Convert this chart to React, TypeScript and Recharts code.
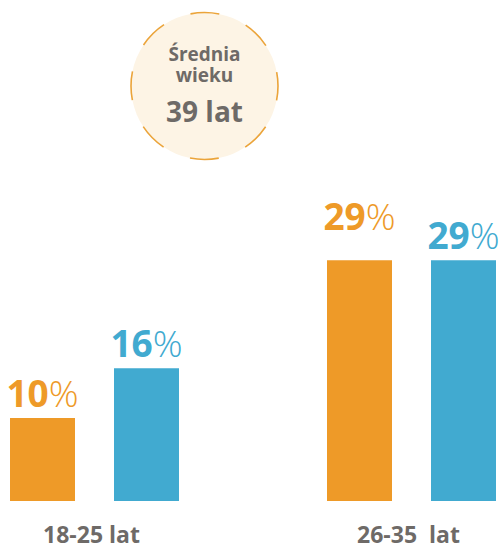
import React from "react";
import { BarChart, Bar, XAxis, YAxis, LabelList } from "recharts";

const groups = ["18-25 lat", "26-35  lat"];
const orangeValues = [10, 29];
const blueValues = [16, 29];
const badgeTitle = ["Średnia", "wieku"];
const badgeValue = "39 lat";

const ORANGE = "#EE9A28";
const BLUE = "#41AAD0";
const GREY = "#6E6A67";
const FONT = "'Open Sans', sans-serif";

const data = groups.map((g, i) => ({
  name: g,
  orange: orangeValues[i],
  blue: blueValues[i],
}));

const makeLabel = (color: string, raise: number[]) => (props: any) => {
  const { x, y, width, value, index } = props;
  const lift = raise[index] || 0;
  return (
    <text
      x={x + width / 2}
      y={y - 11 - lift}
      textAnchor="middle"
      fill={color}
      fontFamily={FONT}
      fontSize={37}
    >
      <tspan fontWeight={700}>{value}</tspan>
      <tspan fontWeight={300}>%</tspan>
    </text>
  );
};

const CategoryTick = (props: any) => {
  const { x, y, payload } = props;
  return (
    <text
      x={x}
      y={y}
      dx={-3}
      dy={34}
      textAnchor="middle"
      fill={GREY}
      fontFamily={FONT}
      fontSize={23}
      fontWeight={700}
      style={{ whiteSpace: "pre" }}
    >
      {payload.value}
    </text>
  );
};

export default function App() {
  return (
    <div
      style={{
        position: "absolute",
        left: 0,
        top: 0,
        width: 499,
        height: 547,
        background: "#fff",
      }}
    >
      <BarChart
        width={499}
        height={547}
        data={data}
        margin={{ top: 169, right: -71, left: -64, bottom: 0 }}
        barCategoryGap={74}
        barGap={39}
      >
        <XAxis
          dataKey="name"
          axisLine={false}
          tickLine={false}
          height={46}
          tick={<CategoryTick />}
          interval={0}
        />
        <YAxis hide domain={[0, 40]} />
        <Bar dataKey="orange" fill={ORANGE} barSize={65} isAnimationActive={false}>
          <LabelList dataKey="orange" content={makeLabel(ORANGE, [0, 19])} />
        </Bar>
        <Bar dataKey="blue" fill={BLUE} barSize={65} isAnimationActive={false}>
          <LabelList dataKey="blue" content={makeLabel(BLUE, [0, 0])} />
        </Bar>
      </BarChart>
      <svg
        width={499}
        height={170}
        style={{ position: "absolute", left: 0, top: 0, pointerEvents: "none" }}
      >
        <circle
          cx={204.5}
          cy={86}
          r={73.5}
          fill="#FDF4E5"
          stroke="#EBA43A"
          strokeWidth={1.6}
          strokeDasharray="29 28.7"
          strokeDashoffset={14.5}
        />
        <g fill={GREY} fontFamily={FONT} fontWeight={700} textAnchor="middle">
          <text x={204.5} y={61} fontSize={19}>
            {badgeTitle[0]}
          </text>
          <text x={204.5} y={82} fontSize={19}>
            {badgeTitle[1]}
          </text>
          <text x={204.5} y={122} fontSize={28}>
            {badgeValue}
          </text>
        </g>
      </svg>
    </div>
  );
}
